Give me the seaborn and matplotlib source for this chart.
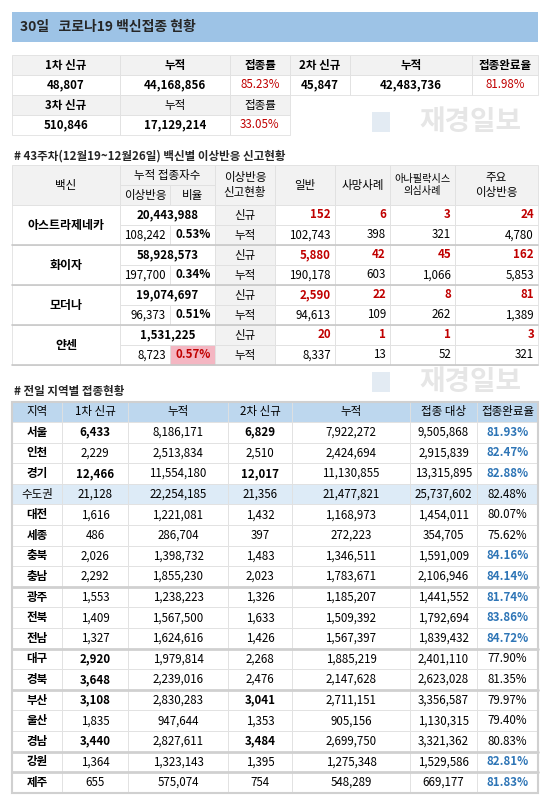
import matplotlib
matplotlib.use("Agg")
import matplotlib.pyplot as plt
from matplotlib.patches import Rectangle
import seaborn as sns

sns.set_theme(style="white")
plt.rcParams['font.family'] = ['Noto Sans CJK KR', 'DejaVu Sans']

title = "30일   코로나19 백신접종 현황"
top_headers1 = ["1차 신규", "누적", "접종률", "2차 신규", "누적", "접종완료율"]
top_values1 = ["48,807", "44,168,856", "85.23%", "45,847", "42,483,736", "81.98%"]
top_headers2 = ["3차 신규", "누적", "접종률"]
top_values2 = ["510,846", "17,129,214", "33.05%"]

sec2_title = "# 43주차(12월19~12월26일) 백신별 이상반응 신고현황"
vaccines = ["아스트라제네카", "화이자", "모더나", "얀센"]
vac_total = ["20,443,988", "58,928,573", "19,074,697", "1,531,225"]
vac_adverse = ["108,242", "197,700", "96,373", "8,723"]
vac_ratio = ["0.53%", "0.34%", "0.51%", "0.57%"]
new_vals = [["152", "6", "3", "24"], ["5,880", "42", "45", "162"],
            ["2,590", "22", "8", "81"], ["20", "1", "1", "3"]]
cum_vals = [["102,743", "398", "321", "4,780"], ["190,178", "603", "1,066", "5,853"],
            ["94,613", "109", "262", "1,389"], ["8,337", "13", "52", "321"]]

sec3_title = "# 전일 지역별 접종현황"
reg_headers = ["지역", "1차 신규", "누적", "2차 신규", "누적", "접종 대상", "접종완료율"]
regions = ["서울", "인천", "경기", "수도권", "대전", "세종", "충북", "충남", "광주", "전북",
           "전남", "대구", "경북", "부산", "울산", "경남", "강원", "제주"]
first_new = ["6,433", "2,229", "12,466", "21,128", "1,616", "486", "2,026", "2,292", "1,553",
             "1,409", "1,327", "2,920", "3,648", "3,108", "1,835", "3,440", "1,364", "655"]
first_cum = ["8,186,171", "2,513,834", "11,554,180", "22,254,185", "1,221,081", "286,704",
             "1,398,732", "1,855,230", "1,238,223", "1,567,500", "1,624,616", "1,979,814",
             "2,239,016", "2,830,283", "947,644", "2,827,611", "1,323,143", "575,074"]
second_new = ["6,829", "2,510", "12,017", "21,356", "1,432", "397", "1,483", "2,023", "1,326",
              "1,633", "1,426", "2,268", "2,476", "3,041", "1,353", "3,484", "1,395", "754"]
second_cum = ["7,922,272", "2,424,694", "11,130,855", "21,477,821", "1,168,973", "272,223",
              "1,346,511", "1,783,671", "1,185,207", "1,509,392", "1,567,397", "1,885,219",
              "2,147,628", "2,711,151", "905,156", "2,699,750", "1,275,348", "548,289"]
targets = ["9,505,868", "2,915,839", "13,315,895", "25,737,602", "1,454,011", "354,705",
           "1,591,009", "2,106,946", "1,441,552", "1,792,694", "1,839,432", "2,401,110",
           "2,623,028", "3,356,587", "1,130,315", "3,321,362", "1,529,586", "669,177"]
rates = ["81.93%", "82.47%", "82.88%", "82.48%", "80.07%", "75.62%", "84.16%", "84.14%",
         "81.74%", "83.86%", "84.72%", "77.90%", "81.35%", "79.97%", "79.40%", "80.83%",
         "82.81%", "81.83%"]
bold_first = {"서울", "경기", "대구", "경북", "부산", "경남"}
bold_second = {"서울", "경기", "부산", "경남"}
blue_rate = {"서울", "인천", "경기", "충북", "충남", "광주", "전북", "전남", "강원", "제주"}
group_breaks = ["충남", "전남", "경북", "경남", "강원"]

RED = "#C00000"; BLUE = "#2E75B6"; GREY = "#F2F2F2"; LINE = "#E0E0E0"
FS = 8.3

fig = plt.figure(figsize=(5.5, 8.01), dpi=100)
ax = fig.add_axes([0, 0, 1, 1])
ax.set_xlim(0, 550); ax.set_ylim(801, 0); ax.axis("off")

def cell(x0, x1, y0, y1, txt="", bg="white", color="black", bold=False, fs=FS, ha="center", lw=0.6, ec=LINE):
    ax.add_patch(Rectangle((x0, y0), x1 - x0, y1 - y0, fc=bg, ec=ec, lw=lw))
    if txt:
        tx = (x0 + x1) / 2 if ha == "center" else x1 - 4
        ax.text(tx, (y0 + y1) / 2, txt, ha=ha, va="center", fontsize=fs, color=color,
                fontweight="bold" if bold else "normal", linespacing=1.25)

# watermark
for wy in (122, 382):
    ax.text(470, wy, "재경일보", fontsize=20, color="#E6E6E6", fontweight="bold", ha="center", va="center", zorder=0)
    ax.add_patch(Rectangle((372, wy - 10), 18, 20, fc="#E3EBF3", ec="none", zorder=0))

# title bar
ax.add_patch(Rectangle((12, 12), 526, 30, fc="#9DC3E6", ec="none"))
ax.text(20, 27, title, fontsize=10, fontweight="bold", va="center", ha="left")

# top table
tx = [12, 120, 230, 290, 350, 472, 538]
for i in range(6):
    cell(tx[i], tx[i+1], 55, 75, top_headers1[i], bg=GREY, bold=True)
    red = "%" in top_values1[i]
    cell(tx[i], tx[i+1], 75, 95, top_values1[i], color=RED if red else "black", bold=not red)
for i in range(3):
    cell(tx[i], tx[i+1], 95, 115, top_headers2[i], bg=GREY, bold=(i == 0))
    red = "%" in top_values2[i]
    cell(tx[i], tx[i+1], 115, 135, top_values2[i], color=RED if red else "black", bold=not red)

# section 2
ax.text(14, 156, sec2_title, fontsize=8.3, fontweight="bold", va="center")
c2 = [12, 120, 170, 215, 275, 335, 390, 455, 538]
cell(c2[0], c2[1], 165, 205, "백신", bg=GREY)
cell(c2[1], c2[3], 165, 185, "누적 접종자수", bg=GREY)
cell(c2[1], c2[2], 185, 205, "이상반응", bg=GREY)
cell(c2[2], c2[3], 185, 205, "비율", bg=GREY)
for j, h in enumerate(["이상반응\n신고현황", "일반", "사망사례", "아나필락시스\n의심사례", "주요\n이상반응"]):
    cell(c2[3+j], c2[4+j], 165, 205, h, bg=GREY, fs=FS if j != 3 else 7.3)
y = 205
for k, v in enumerate(vaccines):
    cell(c2[0], c2[1], y, y + 40, v, bold=True, fs=8.6)
    cell(c2[1], c2[3], y, y + 20, vac_total[k], bold=True)
    cell(c2[1], c2[2], y + 20, y + 40, vac_adverse[k], ha="right")
    cell(c2[2], c2[3], y + 20, y + 40, vac_ratio[k], bold=True, ha="right",
         bg="#F4B6C2" if k == 3 else "white", color=RED if k == 3 else "black")
    cell(c2[3], c2[4], y, y + 20, "신규", bg=GREY)
    cell(c2[3], c2[4], y + 20, y + 40, "누적", bg=GREY)
    for j in range(4):
        cell(c2[4+j], c2[5+j], y, y + 20, new_vals[k][j], color=RED, bold=True, ha="right")
        cell(c2[4+j], c2[5+j], y + 20, y + 40, cum_vals[k][j], ha="right")
    ax.plot([12, 538], [y + 40, y + 40], color="#C8C8C8", lw=1.2)
    y += 40

# section 3
ax.text(14, 392, sec3_title, fontsize=8.3, fontweight="bold", va="center")
c3 = [12, 62, 128, 228, 292, 410, 477, 538]
for j, h in enumerate(reg_headers):
    cell(c3[j], c3[j+1], 402, 422, h, bg="#BDD7EE")
y = 422
rh = 20.6
for i, r in enumerate(regions):
    bg = "#DDEBF7" if r == "수도권" else "white"
    cell(c3[0], c3[1], y, y + rh, r, bg=bg, bold=(r != "수도권"))
    cell(c3[1], c3[2], y, y + rh, first_new[i], bg=bg, bold=r in bold_first)
    cell(c3[2], c3[3], y, y + rh, first_cum[i], bg=bg)
    cell(c3[3], c3[4], y, y + rh, second_new[i], bg=bg, bold=r in bold_second)
    cell(c3[4], c3[5], y, y + rh, second_cum[i], bg=bg)
    cell(c3[5], c3[6], y, y + rh, targets[i], bg=bg)
    cell(c3[6], c3[7], y, y + rh, rates[i], bg=bg, color=BLUE if r in blue_rate else "black",
         bold=r in blue_rate)
    y += rh
    if r in group_breaks:
        ax.plot([12, 538], [y, y], color="#D0D0D0", lw=2)
ax.add_patch(Rectangle((12, 402), 526, y - 402, fc="none", ec="#D0D0D0", lw=1.5))

fig.savefig("out.png", dpi=100)
